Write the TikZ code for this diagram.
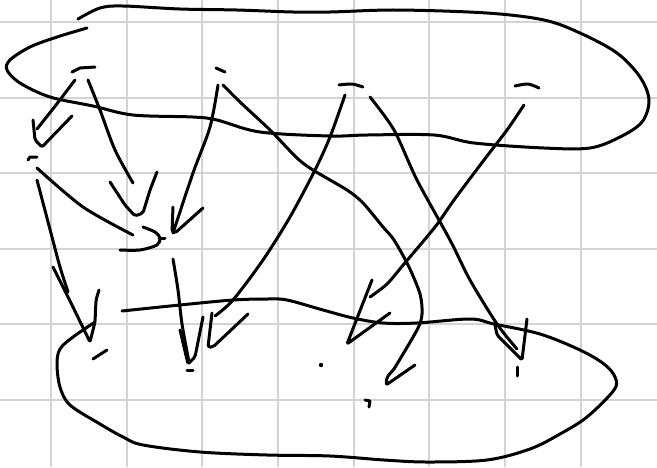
\documentclass[tikz,border=0pt]{standalone}
\begin{document}
\begin{tikzpicture}[x=1pt,y=-1pt,
  ink/.style={draw=black,line width=3pt,line cap=round,line join=round},
  tip/.style={ink,rounded corners=2pt},
  gridline/.style={draw={rgb,255:red,211;green,211;blue,211},line width=2.4pt}]
\useasboundingbox (0,0) rectangle (657,467);
\fill[white] (0,0) rectangle (657,467);
% grid
\foreach \gx in {51,127,202,278,354,429,505,581} \draw[gridline] (\gx,0) -- (\gx,467);
\foreach \gy in {22,98,173,249,324,400} \draw[gridline] (0,\gy) -- (657,\gy);
% top blob
\draw[ink] plot[smooth,tension=0.55] coordinates {(78,19) (100,8) (123,6) (180,9) (237,10) (293,12) (330,12) (397,10) (487,13) (544,20) (580,33) (617,53) (640,77) (649,100) (642,122) (620,137) (590,148) (544,148) (474,143) (434,135) (367,135) (330,136) (260,132) (217,120) (193,117) (133,115) (93,106) (50,97) (20,83) (7,70) (10,60) (30,47) (57,37) (87,28)};
% bottom blob
\draw[ink] plot[smooth,tension=0.55] coordinates {(122,311) (180,305) (233,300) (267,299) (287,300) (323,310) (353,318) (383,323) (417,323) (470,319) (494,324) (540,334) (580,350) (604,364) (615,377) (614,390) (587,417) (560,434) (530,449) (487,460) (427,462) (384,460) (330,456) (267,455) (200,452) (143,445) (123,437) (100,424) (70,405) (60,387) (57,364) (60,349) (73,337) (95,322)};
% node marks
\coordinate (m1) at (80,70);
\coordinate (m2) at (220,70);
\coordinate (m3) at (351,85);
\coordinate (m4) at (527,86);
\coordinate (m5) at (33,158);
\draw[ink] (72,72) -- (80,68) -- (95,67);
\draw[ink] (216,68) -- (225,72);
\draw[ink] plot[smooth] coordinates {(339,85) (352,84) (363,87)};
\draw[ink] plot[smooth] coordinates {(515,86) (528,84) (539,88)};
\draw[ink] (28,160) -- (30,157) -- (37,157);
\draw[ink] (187,370) -- (193,370);
\draw[ink] (93,359) -- (107,350);
\fill (321,365) circle (2.2pt);
\draw[ink] (365,400) -- (370,401) -- (369,407);
\draw[ink] (517,367) -- (517,376);
% arrows
\draw[ink] plot[smooth] coordinates {(75,80) (56,105) (37,129)};
\draw[tip] (33,120) -- (35,140) -- (42,147) -- (72,116);
\draw[ink] plot[smooth] coordinates {(88,80) (100,110) (115,150) (133,183)};
\draw[tip] (110,182) -- (125,205) -- (135,216) -- (143,213) -- (150,190) -- (157,172);
\draw[ink] plot[smooth] coordinates {(37,168) (83,207) (133,235)};
\draw[ink] plot[smooth] coordinates {(143,227) (155,232) (160,238) (157,245) (140,250) (120,250)};
\draw[ink] (159,238) -- (165,238);
\draw[ink] plot[smooth] coordinates {(37,180) (52,237) (60,267) (68,292)};
\draw[tip] (53,267) -- (72,305) -- (90,342) -- (95,322) -- (96,300) -- (99,290);
\draw[ink] plot[smooth] coordinates {(218,85) (210,127) (193,173) (173,233)};
\draw[tip] (173,207) -- (172,232) -- (175,233) -- (203,208);
\draw[ink] plot[smooth] coordinates {(223,85) (240,102) (270,130) (297,158) (313,170) (347,190) (363,203) (383,227) (394,240) (409,267) (420,294) (422,314) (417,330) (394,369)};
\draw[tip] (394,369) -- (387,377) -- (386,385) -- (415,365);
\draw[ink] plot[smooth] coordinates {(173,259) (178,290) (182,324) (189,362)};
\draw[tip] (180,330) -- (188,364) -- (195,357) -- (203,317);
\draw[ink] plot[smooth] coordinates {(345,95) (330,137) (315,170) (290,217) (263,260) (233,300) (215,316)};
\draw[tip] (212,313) -- (208,347) -- (213,347) -- (248,314);
\draw[ink] plot[smooth] coordinates {(370,97) (394,130) (417,180) (450,240) (470,280) (497,324) (517,349)};
\draw[tip] (495,325) -- (497,335) -- (522,360) -- (527,319);
\draw[ink] plot[smooth] coordinates {(524,105) (507,130) (484,160) (454,200) (435,227) (404,264) (387,284) (370,297)};
\draw[tip] (372,280) -- (347,344) -- (390,313);
\end{tikzpicture}
\end{document}
